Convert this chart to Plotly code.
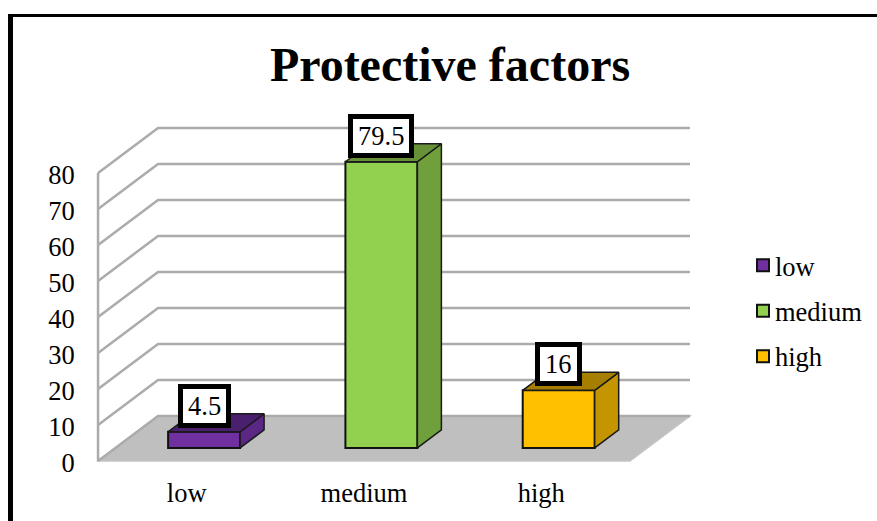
import plotly.graph_objects as go

# ---- data ----
categories = ["low", "medium", "high"]
values = [4.5, 79.5, 16]
labels = ["4.5", "79.5", "16"]
front_colors = ["#7030A0", "#92D050", "#FFC000"]
side_colors = ["#5B2785", "#70A03C", "#C49500"]
top_colors = ["#4A1F6E", "#669136", "#A67F00"]
y_ticks = [0, 10, 20, 30, 40, 50, 60, 70, 80]

FONT = "Liberation Serif"
W, H = 877, 521
PL, PR, PT, PB = 95, 693, 110, 464      # plot box in page pixels
X0_PX, X_SCALE = 186.7, 177.3           # pixel of category 0, pixels per category
Y0_PX, Y_SCALE = 461, 3.6               # pixel of value 0, pixels per unit
X_RANGE = [(PL - X0_PX) / X_SCALE, (PR - X0_PX) / X_SCALE]
Y_RANGE = [(Y0_PX - PB) / Y_SCALE, (Y0_PX - PT) / Y_SCALE]
X_LEFT, X_RIGHT = -0.5, 2.5             # floor edges in category units

# oblique projection of the 3D box: full floor depth, in axis units
DX, DY = 60 / X_SCALE, 45 / Y_SCALE
D0, D1 = 0.29, 0.69                     # bars occupy this slice of the depth
BAR_W = 0.406


def project(x, v, d):
    return x + d * DX, v + d * DY


def page_x(px):
    return px / W


def page_y(py):
    return 1 - py / H


shapes = []

# floor
corners = [project(X_LEFT, 0, 0), project(X_LEFT, 0, 1), project(X_RIGHT, 0, 1), project(X_RIGHT, 0, 0)]
shapes.append(dict(type="path", xref="x", yref="y", layer="below",
                   path="M" + " L".join(f"{a},{b}" for a, b in corners) + " Z",
                   fillcolor="#BFBFBF", line=dict(color="#C4C4C4", width=1.5)))

# walls: gridline runs up the side wall, then along the back wall
for t in y_ticks:
    pts = [project(X_LEFT, t, 0), project(X_LEFT, t, 1), project(X_RIGHT, t, 1)]
    shapes.append(dict(type="path", xref="x", yref="y", layer="below",
                       path="M" + " L".join(f"{a},{b}" for a, b in pts),
                       line=dict(color="#ABABAB", width=2.5)))
shapes.append(dict(type="line", xref="x", yref="y", layer="below",
                   x0=X_LEFT, x1=X_LEFT, y0=y_ticks[0], y1=y_ticks[-1],
                   line=dict(color="#ABABAB", width=2.5)))

# picture frame: top and left rules
shapes.append(dict(type="rect", xref="paper", yref="paper", layer="above",
                   x0=page_x(8), x1=1, y0=page_y(17), y1=page_y(14),
                   fillcolor="black", line=dict(width=0)))
shapes.append(dict(type="rect", xref="paper", yref="paper", layer="above",
                   x0=page_x(8), x1=page_x(13), y0=0, y1=page_y(14),
                   fillcolor="black", line=dict(width=0)))

fig = go.Figure()

for i, (cat, val) in enumerate(zip(categories, values)):
    cx, base = project(i, 0, D0)
    fig.add_trace(go.Bar(x=[cx], y=[val], base=[base], width=BAR_W, name=cat,
                         legendgroup=cat, marker=dict(color=front_colors[i],
                         line=dict(color="#111111", width=2)), hoverinfo="skip"))

for i, val in enumerate(values):
    xl, xr = i - BAR_W / 2, i + BAR_W / 2
    side = [project(xr, 0, D0), project(xr, 0, D1), project(xr, val, D1), project(xr, val, D0), project(xr, 0, D0)]
    top = [project(xl, val, D0), project(xr, val, D0), project(xr, val, D1), project(xl, val, D1), project(xl, val, D0)]
    for poly, col in ((side, side_colors[i]), (top, top_colors[i])):
        fig.add_trace(go.Scatter(x=[p[0] for p in poly], y=[p[1] for p in poly], mode="lines",
                                 fill="toself", fillcolor=col, line=dict(color="#1a1a1a", width=1.5),
                                 showlegend=False, hoverinfo="skip"))

annotations = []
for i, (val, lab) in enumerate(zip(values, labels)):
    ax, ay = project(i, val, D0)
    annotations.append(dict(x=ax, y=ay, xref="x", yref="y", text=lab, showarrow=False,
                            yshift=26, font=dict(family=FONT, size=26.5, color="black"),
                            bgcolor="white", bordercolor="black", borderwidth=5,
                            borderpad=5, height=24))

fig.update_layout(
    width=W, height=H, autosize=False,
    margin=dict(l=0, r=0, t=0, b=0, pad=0),
    paper_bgcolor="white", plot_bgcolor="rgba(0,0,0,0)",
    font=dict(family=FONT, size=26.5, color="black"),
    title=dict(text="<b>Protective factors</b>", x=450 / W, xanchor="center", xref="container",
               y=1 - 64 / H, yanchor="middle", font=dict(family=FONT, size=48, color="black")),
    xaxis=dict(domain=[PL / W, PR / W], range=X_RANGE, tickmode="array", tickvals=[0, 1, 2], ticktext=categories,
               showgrid=False, zeroline=False, showline=False, ticks="outside", ticklen=5, automargin=False,
               tickcolor="rgba(0,0,0,0)", tickfont=dict(family=FONT, size=26.5), fixedrange=True),
    yaxis=dict(domain=[1 - PB / H, 1 - PT / H], range=Y_RANGE, tickmode="array", tickvals=y_ticks,
               showgrid=False, zeroline=False, showline=False, ticks="outside", ticklen=14, automargin=False,
               ticklabelshift=2,
               tickcolor="rgba(0,0,0,0)", tickfont=dict(family=FONT, size=26.5), fixedrange=True),
    legend=dict(x=page_x(735), xanchor="left", y=page_y(311), yanchor="middle", tracegroupgap=8,
                bgcolor="rgba(0,0,0,0)", font=dict(family=FONT, size=26.5)),
    barmode="overlay",
    shapes=shapes,
    annotations=annotations,
)

# the reference sets its legend swatches tight against the labels
fig.write_html("out.html", config=dict(displayModeBar=False),
               post_script="document.body.style.margin='0';"
                           "document.querySelectorAll('.legendpoints').forEach(function(n){"
                           "n.setAttribute('transform','translate(8,0)');});")
